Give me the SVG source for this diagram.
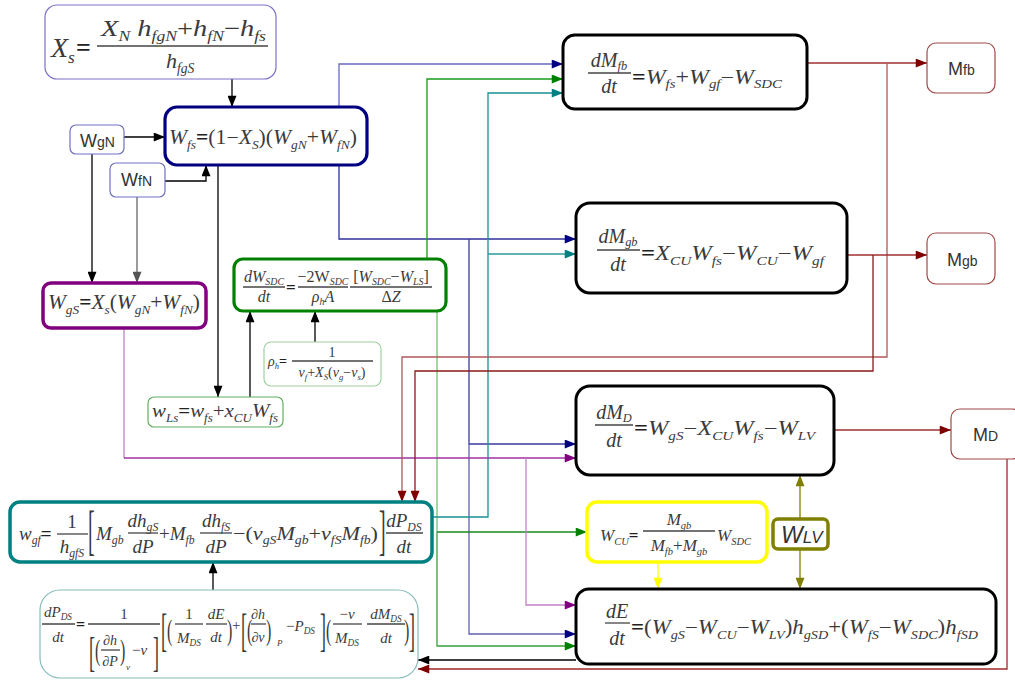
<svg xmlns="http://www.w3.org/2000/svg" width="1015" height="680" viewBox="0 0 1015 680">
<defs>
<style>
.t{font-family:"Liberation Serif","Times New Roman",serif;font-style:italic;fill:#3a3a3a}
.u{font-style:normal}
.b{font-style:normal;font-weight:bold;fill:#222}
.s{font-size:62%}
.m{text-anchor:middle}
.sn{font-family:"Liberation Sans",Arial,sans-serif;fill:#333}
.bar{stroke:#444;stroke-width:1.3}
.c{fill:none;stroke-width:1.3}
.box{fill:#fff}
</style>
<marker id="ak" viewBox="0 0 10 8" refX="10" refY="4" markerWidth="12" markerHeight="9" markerUnits="userSpaceOnUse" orient="auto"><path d="M0,0L10,4L0,8z" fill="#000"/></marker>
<marker id="ag" viewBox="0 0 10 8" refX="10" refY="4" markerWidth="12" markerHeight="9" markerUnits="userSpaceOnUse" orient="auto"><path d="M0,0L10,4L0,8z" fill="#555"/></marker>
<marker id="an" viewBox="0 0 10 8" refX="10" refY="4" markerWidth="12" markerHeight="9" markerUnits="userSpaceOnUse" orient="auto"><path d="M0,0L10,4L0,8z" fill="#000080"/></marker>
<marker id="agr" viewBox="0 0 10 8" refX="10" refY="4" markerWidth="12" markerHeight="9" markerUnits="userSpaceOnUse" orient="auto"><path d="M0,0L10,4L0,8z" fill="#008000"/></marker>
<marker id="at" viewBox="0 0 10 8" refX="10" refY="4" markerWidth="12" markerHeight="9" markerUnits="userSpaceOnUse" orient="auto"><path d="M0,0L10,4L0,8z" fill="#008080"/></marker>
<marker id="ap" viewBox="0 0 10 8" refX="10" refY="4" markerWidth="12" markerHeight="9" markerUnits="userSpaceOnUse" orient="auto"><path d="M0,0L10,4L0,8z" fill="#800080"/></marker>
<marker id="ar" viewBox="0 0 10 8" refX="10" refY="4" markerWidth="12" markerHeight="9" markerUnits="userSpaceOnUse" orient="auto"><path d="M0,0L10,4L0,8z" fill="#800000"/></marker>
<marker id="ay" viewBox="0 0 10 8" refX="10" refY="4" markerWidth="12" markerHeight="9" markerUnits="userSpaceOnUse" orient="auto"><path d="M0,0L10,4L0,8z" fill="#ffff00"/></marker>
<marker id="ao" viewBox="0 0 10 8" refX="10" refY="4" markerWidth="12" markerHeight="9" markerUnits="userSpaceOnUse" orient="auto"><path d="M0,0L10,4L0,8z" fill="#808000"/></marker>
</defs>
<rect width="1015" height="680" fill="#fff"/>

<g id="connectors">
<path class="c" d="M232,79V107" stroke="#000" marker-end="url(#ak)"/>
<path class="c" d="M124,137H165" stroke="#000" marker-end="url(#ak)"/>
<path class="c" d="M165,181H206V165" stroke="#000" marker-end="url(#ak)"/>
<path class="c" d="M92,154V283" stroke="#000" marker-end="url(#ak)"/>
<path class="c" d="M137,197V283" stroke="#666" marker-end="url(#ag)"/>
<path class="c" d="M218,165V397" stroke="#000" marker-end="url(#ak)"/>
<path class="c" d="M250,397V311" stroke="#000" marker-end="url(#ak)"/>
<path class="c" d="M315,342V311" stroke="#000" marker-end="url(#ak)"/>
<path class="c" d="M339,107V64H563" stroke="#6a6ac0" marker-end="url(#an)"/>
<path class="c" d="M339,165V239H576" stroke="#30309a" marker-end="url(#an)"/>
<path class="c" d="M469,239V444H576" stroke="#3a3aa0" marker-end="url(#an)"/>
<path class="c" d="M469,444V634H576" stroke="#6060b0" marker-end="url(#an)"/>
<path class="c" d="M427,259V79H563" stroke="#1a9a1a" marker-end="url(#agr)"/>
<path class="c" d="M437,311V532" stroke="#70c070"/>
<path class="c" d="M437,532H587" stroke="#1a8a1a" marker-end="url(#agr)"/>
<path class="c" d="M437,532V646H576" stroke="#3aa03a" marker-end="url(#agr)"/>
<path class="c" d="M432,517H488V93H563" stroke="#1a9090" marker-end="url(#at)"/>
<path class="c" d="M488,254H576" stroke="#2a9a9a" marker-end="url(#at)"/>
<path class="c" d="M124,328V458" stroke="#c080c8"/>
<path class="c" d="M124,458H576" stroke="#a030a0" marker-end="url(#ap)"/>
<path class="c" d="M526,458V605H576" stroke="#c080c8" marker-end="url(#ap)"/>
<path class="c" d="M807,63H927" stroke="#a03030" marker-end="url(#ar)"/>
<path class="c" d="M887,63V357H402V502" stroke="#b05858" marker-end="url(#ar)"/>
<path class="c" d="M847,255H927" stroke="#a03030" marker-end="url(#ar)"/>
<path class="c" d="M873,255V371H415V502" stroke="#8b1a1a" marker-end="url(#ar)"/>
<path class="c" d="M834,430H951" stroke="#a03030" marker-end="url(#ar)"/>
<path class="c" d="M1007,459V669H418" stroke="#a02828" marker-end="url(#ar)"/>
<path class="c" d="M576,660H418" stroke="#000" marker-end="url(#ak)"/>
<path class="c" d="M658,562V589" stroke="#ffff00" marker-end="url(#ay)"/>
<path class="c" d="M800,519V475" stroke="#808000" marker-end="url(#ao)"/>
<path class="c" d="M800,549V589" stroke="#808000" marker-end="url(#ao)"/>
<path class="c" d="M213,590V562" stroke="#000" marker-end="url(#ak)"/>
</g>

<g id="n-xs">
<rect class="box" x="45" y="5" width="231" height="74" rx="12" stroke="#7c70c8" stroke-width="1.2"/>
<text class="t" x="51" y="57" font-size="28">X<tspan class="s" dy="6">s</tspan></text>
<text class="b" x="76" y="56" font-size="26" font-family="Liberation Serif">=</text>
<text class="t" x="101" y="36" font-size="23" textLength="165" lengthAdjust="spacingAndGlyphs">X<tspan class="s" dy="5">N</tspan><tspan dy="-5"> h</tspan><tspan class="s" dy="5">fgN</tspan><tspan class="u" dy="-5">+</tspan>h<tspan class="s" dy="5">fN</tspan><tspan class="u" dy="-5">−</tspan>h<tspan class="s" dy="5">fs</tspan></text>
<line class="bar" x1="97" y1="46" x2="268" y2="46"/>
<text class="t" x="166" y="68" font-size="22">h<tspan class="s" dy="5">fgS</tspan></text>
</g>

<g id="n-wfs">
<rect class="box" x="165" y="107" width="202" height="58" rx="12" stroke="#000080" stroke-width="3.2"/>
<text class="t" x="169" y="144" font-size="20" textLength="188" lengthAdjust="spacingAndGlyphs">W<tspan class="s" dy="5">fs</tspan><tspan class="b" dy="-5">=</tspan><tspan class="u">(1−</tspan>X<tspan class="s" dy="5">S</tspan><tspan class="u" dy="-5">)(</tspan>W<tspan class="s" dy="5">gN</tspan><tspan class="u" dy="-5">+</tspan>W<tspan class="s" dy="5">fN</tspan><tspan class="u" dy="-5">)</tspan></text>
</g>

<g id="n-wgn">
<rect class="box" x="70" y="125" width="54" height="29" rx="6" stroke="#7070c0" stroke-width="1.2"/>
<text class="sn" x="80" y="147" font-size="18">W<tspan font-size="14">gN</tspan></text>
</g>

<g id="n-wfn">
<rect class="box" x="110" y="163" width="55" height="34" rx="6" stroke="#7070c0" stroke-width="1.2"/>
<text class="sn" x="121" y="186" font-size="18">W<tspan font-size="14">fN</tspan></text>
</g>

<g id="n-wgs">
<rect class="box" x="43" y="283" width="163" height="45" rx="8" stroke="#800080" stroke-width="3.5"/>
<text class="t" x="48" y="309" font-size="20" textLength="152" lengthAdjust="spacingAndGlyphs">W<tspan class="s" dy="5">gS</tspan><tspan class="b" dy="-5">=</tspan>X<tspan class="s" dy="5">s</tspan><tspan class="u" dy="-5">(</tspan>W<tspan class="s" dy="5">gN</tspan><tspan class="u" dy="-5">+</tspan>W<tspan class="s" dy="5">fN</tspan><tspan class="u" dy="-5">)</tspan></text>
</g>

<g id="n-dwsdc">
<rect class="box" x="234" y="259" width="212" height="52" rx="9" stroke="#008000" stroke-width="3.2"/>
<text class="t m" x="264" y="282" font-size="16">dW<tspan class="s" dy="3">SDC</tspan></text>
<line class="bar" x1="243" y1="287" x2="285" y2="287"/>
<text class="t m" x="264" y="302" font-size="16">dt</text>
<text class="b" x="286" y="293" font-size="17" font-family="Liberation Serif">=</text>
<text class="t m" x="323" y="282" font-size="16"><tspan class="u">−2W</tspan><tspan class="s" dy="3">SDC</tspan></text>
<line class="bar" x1="298" y1="287" x2="348" y2="287"/>
<text class="t m" x="323" y="302" font-size="16">ρ<tspan class="s" dy="3">h</tspan><tspan dy="-3">A</tspan></text>
<text class="t m" x="391" y="282" font-size="16"><tspan class="u">[</tspan>W<tspan class="s" dy="3">SDC</tspan><tspan class="u" dy="-3">−</tspan>W<tspan class="s" dy="3">LS</tspan><tspan class="u" dy="-3">]</tspan></text>
<line class="bar" x1="350" y1="287" x2="432" y2="287"/>
<text class="t m" x="391" y="302" font-size="16"><tspan class="u">Δ</tspan>Z</text>
</g>

<g id="n-rho">
<rect class="box" x="264" y="342" width="117" height="44" rx="7" stroke="#a0d0a0" stroke-width="1.2"/>
<text class="t" x="268" y="366" font-size="14">ρ<tspan class="s" dy="3">h</tspan><tspan class="b" dy="-3">=</tspan></text>
<text class="t m u" x="332" y="357" font-size="14">1</text>
<line class="bar" x1="292" y1="361" x2="373" y2="361"/>
<text class="t m" x="332" y="377" font-size="14">v<tspan class="s" dy="3">f</tspan><tspan class="u" dy="-3">+</tspan>X<tspan class="s" dy="3">S</tspan><tspan class="u" dy="-3">(</tspan>v<tspan class="s" dy="3">g</tspan><tspan class="u" dy="-3">−</tspan>v<tspan class="s" dy="3">s</tspan><tspan class="u" dy="-3">)</tspan></text>
</g>

<g id="n-wls">
<rect class="box" x="148" y="397" width="135" height="30" rx="6" stroke="#60b060" stroke-width="1.2"/>
<text class="t" x="152" y="417" font-size="19" textLength="126" lengthAdjust="spacingAndGlyphs">w<tspan class="s" dy="5">Ls</tspan><tspan class="b" dy="-5">=</tspan>w<tspan class="s" dy="5">fs</tspan><tspan class="u" dy="-5">+</tspan>x<tspan class="s" dy="5">CU</tspan><tspan dy="-5">W</tspan><tspan class="s" dy="5">fs</tspan></text>
</g>

<g id="n-dmfb">
<rect class="box" x="563" y="35" width="244" height="74" rx="12" stroke="#000" stroke-width="3"/>
<text class="t m" x="609" y="67" font-size="20">dM<tspan class="s" dy="3">fb</tspan></text>
<line class="bar" x1="588" y1="73" x2="631" y2="73"/>
<text class="t m" x="609" y="93" font-size="20">dt</text>
<text class="t" x="632" y="84" font-size="20" textLength="150" lengthAdjust="spacingAndGlyphs"><tspan class="b">=</tspan>W<tspan class="s" dy="4">fs</tspan><tspan class="u" dy="-4">+</tspan>W<tspan class="s" dy="4">gf</tspan><tspan class="u" dy="-4">−</tspan>W<tspan class="s" dy="4">SDC</tspan></text>
</g>

<g id="n-mfb">
<rect class="box" x="927" y="43" width="68" height="50" rx="9" stroke="#a04848" stroke-width="1.2"/>
<text class="sn" x="948" y="75" font-size="18">M<tspan font-size="14">fb</tspan></text>
</g>

<g id="n-dmgb">
<rect class="box" x="576" y="203" width="271" height="90" rx="14" stroke="#000" stroke-width="3"/>
<text class="t m" x="618" y="243" font-size="20">dM<tspan class="s" dy="3">gb</tspan></text>
<line class="bar" x1="597" y1="250" x2="640" y2="250"/>
<text class="t m" x="618" y="271" font-size="20">dt</text>
<text class="t" x="641" y="260" font-size="20" textLength="183" lengthAdjust="spacingAndGlyphs"><tspan class="b">=</tspan>X<tspan class="s" dy="5">CU</tspan><tspan dy="-5">W</tspan><tspan class="s" dy="5">fs</tspan><tspan class="u" dy="-5">−</tspan>W<tspan class="s" dy="5">CU</tspan><tspan class="u" dy="-5">−</tspan>W<tspan class="s" dy="5">gf</tspan></text>
</g>

<g id="n-mgb">
<rect class="box" x="927" y="233" width="68" height="51" rx="9" stroke="#a04848" stroke-width="1.2"/>
<text class="sn" x="947" y="266" font-size="18">M<tspan font-size="14">gb</tspan></text>
</g>

<g id="n-dmd">
<rect class="box" x="576" y="386" width="258" height="89" rx="14" stroke="#000" stroke-width="3"/>
<text class="t m" x="614" y="419" font-size="20">dM<tspan class="s" dy="3">D</tspan></text>
<line class="bar" x1="595" y1="425" x2="633" y2="425"/>
<text class="t m" x="614" y="447" font-size="20">dt</text>
<text class="t" x="634" y="435" font-size="20" textLength="181" lengthAdjust="spacingAndGlyphs"><tspan class="b">=</tspan>W<tspan class="s" dy="5">gS</tspan><tspan class="u" dy="-5">−</tspan>X<tspan class="s" dy="5">CU</tspan><tspan dy="-5">W</tspan><tspan class="s" dy="5">fs</tspan><tspan class="u" dy="-5">−</tspan>W<tspan class="s" dy="5">LV</tspan></text>
</g>

<g id="n-md">
<rect class="box" x="951" y="409" width="70" height="50" rx="9" stroke="#a04848" stroke-width="1.2"/>
<text class="sn" x="973" y="441" font-size="18">M<tspan font-size="14">D</tspan></text>
</g>

<g id="n-wgf">
<rect class="box" x="10" y="502" width="422" height="60" rx="10" stroke="#008080" stroke-width="3.5"/>
<text class="t" x="19" y="540" font-size="19">w<tspan class="s" dy="4">gf</tspan><tspan class="b" dy="-4">=</tspan></text>
<text class="t m u" x="72" y="528" font-size="19">1</text>
<line class="bar" x1="57" y1="534" x2="88" y2="534"/>
<text class="t m" x="72" y="553" font-size="19">h<tspan class="s" dy="4">gfS</tspan></text>
<text class="t u" transform="translate(88,549) scale(1,2.7)" font-size="20">[</text>
<text class="t" x="96" y="540" font-size="19">M<tspan class="s" dy="4">gb</tspan></text>
<text class="t m" x="143" y="527" font-size="19">dh<tspan class="s" dy="4">gS</tspan></text>
<line class="bar" x1="128" y1="533" x2="158" y2="533"/>
<text class="t m" x="143" y="553" font-size="19">dP</text>
<text class="t" x="159" y="540" font-size="19"><tspan class="u">+</tspan>M<tspan class="s" dy="4">fb</tspan></text>
<text class="t m" x="216" y="527" font-size="19">dh<tspan class="s" dy="4">fS</tspan></text>
<line class="bar" x1="200" y1="533" x2="232" y2="533"/>
<text class="t m" x="216" y="553" font-size="19">dP</text>
<text class="t" x="233" y="540" font-size="19" textLength="145" lengthAdjust="spacingAndGlyphs"><tspan class="u">−(</tspan>v<tspan class="s" dy="4">gS</tspan><tspan dy="-4">M</tspan><tspan class="s" dy="4">gb</tspan><tspan class="u" dy="-4">+</tspan>v<tspan class="s" dy="4">fS</tspan><tspan dy="-4">M</tspan><tspan class="s" dy="4">fb</tspan><tspan class="u" dy="-4">)</tspan></text>
<text class="t u" transform="translate(379,549) scale(1,2.7)" font-size="20">]</text>
<text class="t m" x="404" y="527" font-size="19">dP<tspan class="s" dy="4">DS</tspan></text>
<line class="bar" x1="386" y1="533" x2="423" y2="533"/>
<text class="t m" x="404" y="553" font-size="19">dt</text>
</g>

<g id="n-dpds">
<rect class="box" x="40" y="590" width="378" height="88" rx="20" stroke="#88bbbb" stroke-width="1.2"/>
<text class="t m" x="58" y="617" font-size="15">dP<tspan class="s" dy="3">DS</tspan></text>
<line class="bar" x1="42" y1="624" x2="75" y2="624"/>
<text class="t m" x="58" y="642" font-size="15">dt</text>
<text class="b" x="76" y="630" font-size="16" font-family="Liberation Serif">=</text>
<text class="t m u" x="124" y="619" font-size="15">1</text>
<line class="bar" x1="88" y1="624" x2="160" y2="624"/>
<text class="t u" transform="translate(89,666) scale(1,2.3)" font-size="18">[</text>
<text class="t u" transform="translate(95,660) scale(1,1.8)" font-size="16">(</text>
<text class="t m" x="110" y="645" font-size="14"><tspan class="u">∂</tspan>h</text>
<line class="bar" x1="101" y1="650" x2="120" y2="650"/>
<text class="t m" x="110" y="666" font-size="14"><tspan class="u">∂</tspan>P</text>
<text class="t u" transform="translate(120,660) scale(1,1.8)" font-size="16">)</text>
<text class="t" x="126" y="670" font-size="9">v</text>
<text class="t" x="132" y="655" font-size="15"><tspan class="u">−</tspan>v</text>
<text class="t u" transform="translate(153,666) scale(1,2.3)" font-size="18">]</text>
<text class="t u" transform="translate(161,646) scale(1,2.6)" font-size="18">[</text>
<text class="t u" transform="translate(167,640) scale(1,1.8)" font-size="16">(</text>
<text class="t m u" x="189" y="619" font-size="15">1</text>
<line class="bar" x1="175" y1="624" x2="203" y2="624"/>
<text class="t m" x="189" y="643" font-size="15">M<tspan class="s" dy="3">DS</tspan></text>
<text class="t m" x="216" y="619" font-size="15">dE</text>
<line class="bar" x1="206" y1="624" x2="227" y2="624"/>
<text class="t m" x="216" y="642" font-size="15">dt</text>
<text class="t u" transform="translate(227,640) scale(1,1.8)" font-size="16">)</text>
<text class="t u" x="232" y="630" font-size="15">+</text>
<text class="t u" transform="translate(241,646) scale(1,2.6)" font-size="18">[</text>
<text class="t u" transform="translate(247,640) scale(1,1.8)" font-size="16">(</text>
<text class="t m" x="258" y="619" font-size="14"><tspan class="u">∂</tspan>h</text>
<line class="bar" x1="251" y1="624" x2="266" y2="624"/>
<text class="t m" x="258" y="642" font-size="14"><tspan class="u">∂</tspan>v</text>
<text class="t u" transform="translate(266,640) scale(1,1.8)" font-size="16">)</text>
<text class="t" x="277" y="646" font-size="9">P</text>
<text class="t" x="286" y="631" font-size="15"><tspan class="u">−</tspan>P<tspan class="s" dy="3">DS</tspan></text>
<text class="t u" transform="translate(320,646) scale(1,2.6)" font-size="18">]</text>
<text class="t u" transform="translate(326,640) scale(1,1.8)" font-size="16">(</text>
<text class="t m" x="347" y="619" font-size="15"><tspan class="u">−</tspan>v</text>
<line class="bar" x1="333" y1="624" x2="362" y2="624"/>
<text class="t m" x="347" y="643" font-size="15">M<tspan class="s" dy="3">DS</tspan></text>
<text class="t m" x="386" y="619" font-size="15">dM<tspan class="s" dy="3">DS</tspan></text>
<line class="bar" x1="367" y1="624" x2="405" y2="624"/>
<text class="t m" x="386" y="643" font-size="15">dt</text>
<text class="t u" transform="translate(404,640) scale(1,1.8)" font-size="16">)</text>
<text class="t u" transform="translate(409,646) scale(1,2.6)" font-size="18">]</text>
</g>

<g id="n-wcu">
<rect class="box" x="587" y="502" width="180" height="60" rx="10" stroke="#ffff00" stroke-width="3.5"/>
<text class="t" x="600" y="541" font-size="17">W<tspan class="s" dy="4">CU</tspan><tspan class="b" dy="-4">=</tspan></text>
<text class="t m" x="679" y="525" font-size="17">M<tspan class="s" dy="4">gb</tspan></text>
<line class="bar" x1="643" y1="531" x2="715" y2="531"/>
<text class="t m" x="679" y="551" font-size="17">M<tspan class="s" dy="4">fb</tspan><tspan class="u" dy="-4">+</tspan>M<tspan class="s" dy="4">gb</tspan></text>
<text class="t" x="717" y="541" font-size="17">W<tspan class="s" dy="4">SDC</tspan></text>
</g>

<g id="n-wlv">
<rect class="box" x="773" y="519" width="55" height="30" rx="5" stroke="#808000" stroke-width="3.5"/>
<text class="sn" x="781" y="543" font-size="23" font-style="italic">W<tspan font-size="17">LV</tspan></text>
</g>

<g id="n-de">
<rect class="box" x="576" y="589" width="420" height="75" rx="13" stroke="#000" stroke-width="3"/>
<text class="t m" x="617" y="618" font-size="20">dE</text>
<line class="bar" x1="605" y1="623" x2="630" y2="623"/>
<text class="t m" x="617" y="645" font-size="20">dt</text>
<text class="t" x="631" y="634" font-size="20" textLength="347" lengthAdjust="spacingAndGlyphs"><tspan class="b">=</tspan><tspan class="u">(</tspan>W<tspan class="s" dy="5">gS</tspan><tspan class="u" dy="-5">−</tspan>W<tspan class="s" dy="5">CU</tspan><tspan class="u" dy="-5">−</tspan>W<tspan class="s" dy="5">LV</tspan><tspan class="u" dy="-5">)</tspan>h<tspan class="s" dy="5">gSD</tspan><tspan class="u" dy="-5">+(</tspan>W<tspan class="s" dy="5">fS</tspan><tspan class="u" dy="-5">−</tspan>W<tspan class="s" dy="5">SDC</tspan><tspan class="u" dy="-5">)</tspan>h<tspan class="s" dy="5">fSD</tspan></text>
</g>
</svg>
